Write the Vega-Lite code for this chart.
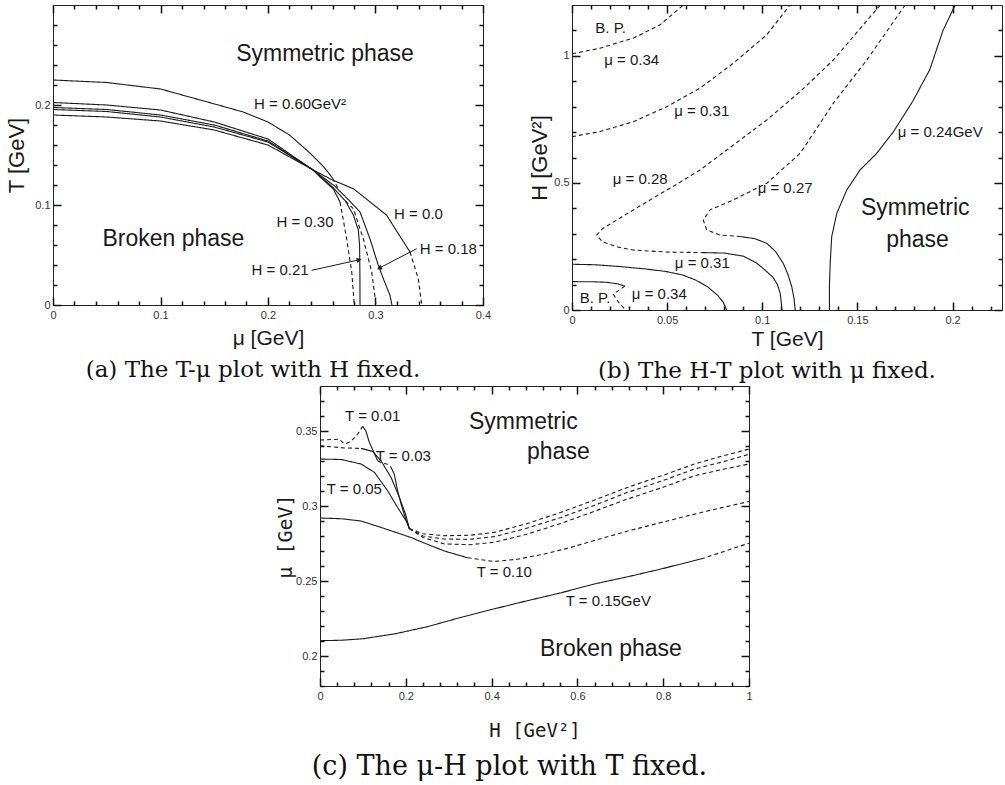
{
"$schema":"https://vega.github.io/schema/vega-lite/v6.json",
"padding":{"left":5,"top":2,"right":0,"bottom":0},
"background":"white",
"config":{
 "view":{"stroke":"#222","strokeWidth":1},
 "axis":{"grid":false,"domain":false,"zindex":1,"tickColor":"#111","tickWidth":1.5,"tickOpacity":1,"labelFont":"Liberation Sans","labelFontSize":11,"labelColor":"#333","labelFlush":false,"labelOverlap":false,"titleFont":"Liberation Sans","titleFontWeight":"normal","titleColor":"#1a1a1a","format":"~g"},
 "text":{"font":"Liberation Sans","color":"#1a1a1a","baseline":"middle","align":"center"},
 "title":{"font":"DejaVu Serif","fontWeight":"normal","color":"#111","fontSize":23}
},
"datasets":{
 "a_lines":[
  {"seg":"H60s","s":"solid","i":0,"x":0,"y":0.225},{"seg":"H60s","s":"solid","i":1,"x":0.05,"y":0.2225},{"seg":"H60s","s":"solid","i":2,"x":0.1,"y":0.216},{"seg":"H60s","s":"solid","i":3,"x":0.137,"y":0.205},{"seg":"H60s","s":"solid","i":4,"x":0.177,"y":0.193},{"seg":"H60s","s":"solid","i":5,"x":0.2,"y":0.183},{"seg":"H60s","s":"solid","i":6,"x":0.22,"y":0.17},{"seg":"H60s","s":"solid","i":7,"x":0.239,"y":0.152},{"seg":"H60s","s":"solid","i":8,"x":0.252,"y":0.138},{"seg":"H60s","s":"solid","i":9,"x":0.26,"y":0.127},
  {"seg":"H60d","s":"dashed","i":0,"x":0.26,"y":0.127},{"seg":"H60d","s":"dashed","i":1,"x":0.266,"y":0.115},
  {"seg":"H30s","s":"solid","i":0,"x":0,"y":0.2025},{"seg":"H30s","s":"solid","i":1,"x":0.05,"y":0.2},{"seg":"H30s","s":"solid","i":2,"x":0.1,"y":0.195},{"seg":"H30s","s":"solid","i":3,"x":0.15,"y":0.183},{"seg":"H30s","s":"solid","i":4,"x":0.2,"y":0.166},{"seg":"H30s","s":"solid","i":5,"x":0.242,"y":0.135},{"seg":"H30s","s":"solid","i":6,"x":0.2484,"y":0.128},{"seg":"H30s","s":"solid","i":7,"x":0.2608,"y":0.116},{"seg":"H30s","s":"solid","i":8,"x":0.267,"y":0.103},
  {"seg":"H30d","s":"dashed","i":0,"x":0.267,"y":0.103},{"seg":"H30d","s":"dashed","i":1,"x":0.2732,"y":0.066},{"seg":"H30d","s":"dashed","i":2,"x":0.2779,"y":0.033},{"seg":"H30d","s":"dashed","i":3,"x":0.2803,"y":0},
  {"seg":"H21s","s":"solid","i":0,"x":0,"y":0.1975},{"seg":"H21s","s":"solid","i":1,"x":0.05,"y":0.1955},{"seg":"H21s","s":"solid","i":2,"x":0.1,"y":0.19},{"seg":"H21s","s":"solid","i":3,"x":0.15,"y":0.18},{"seg":"H21s","s":"solid","i":4,"x":0.2,"y":0.164},{"seg":"H21s","s":"solid","i":5,"x":0.242,"y":0.135},{"seg":"H21s","s":"solid","i":6,"x":0.26,"y":0.118},{"seg":"H21s","s":"solid","i":7,"x":0.272,"y":0.104},{"seg":"H21s","s":"solid","i":8,"x":0.2794,"y":0.09},{"seg":"H21s","s":"solid","i":9,"x":0.284,"y":0.075},{"seg":"H21s","s":"solid","i":10,"x":0.2852,"y":0.06},{"seg":"H21s","s":"solid","i":11,"x":0.2855,"y":0.03},{"seg":"H21s","s":"solid","i":12,"x":0.2856,"y":0},
  {"seg":"H21d","s":"dashed","i":0,"x":0.272,"y":0.104},{"seg":"H21d","s":"dashed","i":1,"x":0.2794,"y":0.0963},{"seg":"H21d","s":"dashed","i":2,"x":0.2887,"y":0.066},{"seg":"H21d","s":"dashed","i":3,"x":0.2965,"y":0.033},{"seg":"H21d","s":"dashed","i":4,"x":0.3005,"y":0},
  {"seg":"H18s","s":"solid","i":0,"x":0,"y":0.1955},{"seg":"H18s","s":"solid","i":1,"x":0.05,"y":0.1935},{"seg":"H18s","s":"solid","i":2,"x":0.1,"y":0.188},{"seg":"H18s","s":"solid","i":3,"x":0.15,"y":0.178},{"seg":"H18s","s":"solid","i":4,"x":0.2,"y":0.163},{"seg":"H18s","s":"solid","i":5,"x":0.242,"y":0.135},{"seg":"H18s","s":"solid","i":6,"x":0.262,"y":0.119},{"seg":"H18s","s":"solid","i":7,"x":0.276,"y":0.104},{"seg":"H18s","s":"solid","i":8,"x":0.2856,"y":0.093},{"seg":"H18s","s":"solid","i":9,"x":0.2949,"y":0.066},{"seg":"H18s","s":"solid","i":10,"x":0.3026,"y":0.0397},{"seg":"H18s","s":"solid","i":11,"x":0.3073,"y":0.0263},{"seg":"H18s","s":"solid","i":12,"x":0.3135,"y":0.0097},{"seg":"H18s","s":"solid","i":13,"x":0.3153,"y":0},
  {"seg":"H00s","s":"solid","i":0,"x":0,"y":0.19},{"seg":"H00s","s":"solid","i":1,"x":0.05,"y":0.188},{"seg":"H00s","s":"solid","i":2,"x":0.1,"y":0.184},{"seg":"H00s","s":"solid","i":3,"x":0.15,"y":0.175},{"seg":"H00s","s":"solid","i":4,"x":0.2,"y":0.16},{"seg":"H00s","s":"solid","i":5,"x":0.242,"y":0.135},{"seg":"H00s","s":"solid","i":6,"x":0.26,"y":0.125},{"seg":"H00s","s":"solid","i":7,"x":0.2794,"y":0.1163},{"seg":"H00s","s":"solid","i":8,"x":0.295,"y":0.103},{"seg":"H00s","s":"solid","i":9,"x":0.3104,"y":0.0897},{"seg":"H00s","s":"solid","i":10,"x":0.322,"y":0.07},{"seg":"H00s","s":"solid","i":11,"x":0.3321,"y":0.053},
  {"seg":"H00d","s":"dashed","i":0,"x":0.3321,"y":0.053},{"seg":"H00d","s":"dashed","i":1,"x":0.3398,"y":0.0263},{"seg":"H00d","s":"dashed","i":2,"x":0.343,"y":0}
 ],
 "a_text":[
  {"x":0.2298,"y":0.201,"t":"H = 0.60GeV²"},{"x":0.2344,"y":0.083,"t":"H = 0.30"},{"x":0.34,"y":0.0913,"t":"H = 0.0"},{"x":0.3677,"y":0.0557,"t":"H = 0.18"},{"x":0.2112,"y":0.0347,"t":"H = 0.21"}
 ],
 "a_phase":[{"x":0.253,"y":0.251,"t":"Symmetric phase"},{"x":0.112,"y":0.066,"t":"Broken phase"}],
 "a_arrows":[{"a":"h21","x":0.2406,"y":0.0347,"x2":0.284,"y2":0.045},{"a":"h18","x":0.3383,"y":0.0563,"x2":0.3042,"y2":0.0373}],
 "b_lines":[
  {"seg":"m34u","s":"dashed","i":0,"x":0,"y":1.008},{"seg":"m34u","s":"dashed","i":1,"x":0.0147,"y":1.03},{"seg":"m34u","s":"dashed","i":2,"x":0.0323,"y":1.07},{"seg":"m34u","s":"dashed","i":3,"x":0.0463,"y":1.122},{"seg":"m34u","s":"dashed","i":4,"x":0.0585,"y":1.2},
  {"seg":"m31u","s":"dashed","i":0,"x":0,"y":0.682},{"seg":"m31u","s":"dashed","i":1,"x":0.0147,"y":0.702},{"seg":"m31u","s":"dashed","i":2,"x":0.0323,"y":0.741},{"seg":"m31u","s":"dashed","i":3,"x":0.0498,"y":0.8},{"seg":"m31u","s":"dashed","i":4,"x":0.0673,"y":0.873},{"seg":"m31u","s":"dashed","i":5,"x":0.0848,"y":0.971},{"seg":"m31u","s":"dashed","i":6,"x":0.1024,"y":1.083},{"seg":"m31u","s":"dashed","i":7,"x":0.1146,"y":1.2},
  {"seg":"m28d","s":"dashed","i":0,"x":0.162,"y":1.2},{"seg":"m28d","s":"dashed","i":1,"x":0.1374,"y":0.984},{"seg":"m28d","s":"dashed","i":2,"x":0.12,"y":0.86},{"seg":"m28d","s":"dashed","i":3,"x":0.1024,"y":0.748},{"seg":"m28d","s":"dashed","i":4,"x":0.085,"y":0.65},{"seg":"m28d","s":"dashed","i":5,"x":0.0673,"y":0.551},{"seg":"m28d","s":"dashed","i":6,"x":0.054,"y":0.49},{"seg":"m28d","s":"dashed","i":7,"x":0.041,"y":0.433},{"seg":"m28d","s":"dashed","i":8,"x":0.0235,"y":0.354},{"seg":"m28d","s":"dashed","i":9,"x":0.016,"y":0.32},{"seg":"m28d","s":"dashed","i":10,"x":0.013,"y":0.295},{"seg":"m28d","s":"dashed","i":11,"x":0.016,"y":0.268},{"seg":"m28d","s":"dashed","i":12,"x":0.024,"y":0.248},{"seg":"m28d","s":"dashed","i":13,"x":0.032,"y":0.236},{"seg":"m28d","s":"dashed","i":14,"x":0.0498,"y":0.228},{"seg":"m28d","s":"dashed","i":15,"x":0.068,"y":0.226},
  {"seg":"m28s","s":"solid","i":0,"x":0.068,"y":0.226},{"seg":"m28s","s":"solid","i":1,"x":0.08,"y":0.224},{"seg":"m28s","s":"solid","i":2,"x":0.09,"y":0.212},{"seg":"m28s","s":"solid","i":3,"x":0.097,"y":0.185},{"seg":"m28s","s":"solid","i":4,"x":0.101,"y":0.16},{"seg":"m28s","s":"solid","i":5,"x":0.1055,"y":0.13},{"seg":"m28s","s":"solid","i":6,"x":0.108,"y":0.1},{"seg":"m28s","s":"solid","i":7,"x":0.1094,"y":0.066},{"seg":"m28s","s":"solid","i":8,"x":0.11,"y":0.03},{"seg":"m28s","s":"solid","i":9,"x":0.1103,"y":0},
  {"seg":"m27d","s":"dashed","i":0,"x":0.1751,"y":1.2},{"seg":"m27d","s":"dashed","i":1,"x":0.155,"y":0.984},{"seg":"m27d","s":"dashed","i":2,"x":0.1374,"y":0.814},{"seg":"m27d","s":"dashed","i":3,"x":0.12,"y":0.617},{"seg":"m27d","s":"dashed","i":4,"x":0.1024,"y":0.499},{"seg":"m27d","s":"dashed","i":5,"x":0.0848,"y":0.433},{"seg":"m27d","s":"dashed","i":6,"x":0.0726,"y":0.394},{"seg":"m27d","s":"dashed","i":7,"x":0.069,"y":0.354},{"seg":"m27d","s":"dashed","i":8,"x":0.0708,"y":0.315},{"seg":"m27d","s":"dashed","i":9,"x":0.0778,"y":0.295},{"seg":"m27d","s":"dashed","i":10,"x":0.0883,"y":0.289},
  {"seg":"m27s","s":"solid","i":0,"x":0.0883,"y":0.289},{"seg":"m27s","s":"solid","i":1,"x":0.096,"y":0.281},{"seg":"m27s","s":"solid","i":2,"x":0.1024,"y":0.262},{"seg":"m27s","s":"solid","i":3,"x":0.107,"y":0.23},{"seg":"m27s","s":"solid","i":4,"x":0.111,"y":0.184},{"seg":"m27s","s":"solid","i":5,"x":0.1135,"y":0.14},{"seg":"m27s","s":"solid","i":6,"x":0.1155,"y":0.092},{"seg":"m27s","s":"solid","i":7,"x":0.1167,"y":0.045},{"seg":"m27s","s":"solid","i":8,"x":0.1173,"y":0},
  {"seg":"m24s","s":"solid","i":0,"x":0.2014,"y":1.2},{"seg":"m24s","s":"solid","i":1,"x":0.195,"y":1.1},{"seg":"m24s","s":"solid","i":2,"x":0.188,"y":0.945},{"seg":"m24s","s":"solid","i":3,"x":0.179,"y":0.82},{"seg":"m24s","s":"solid","i":4,"x":0.169,"y":0.702},{"seg":"m24s","s":"solid","i":5,"x":0.16,"y":0.615},{"seg":"m24s","s":"solid","i":6,"x":0.1514,"y":0.551},{"seg":"m24s","s":"solid","i":7,"x":0.1444,"y":0.472},{"seg":"m24s","s":"solid","i":8,"x":0.1392,"y":0.381},{"seg":"m24s","s":"solid","i":9,"x":0.1365,"y":0.289},{"seg":"m24s","s":"solid","i":10,"x":0.1357,"y":0.184},{"seg":"m24s","s":"solid","i":11,"x":0.1353,"y":0.092},{"seg":"m24s","s":"solid","i":12,"x":0.1353,"y":0},
  {"seg":"m31l","s":"solid","i":0,"x":0,"y":0.18},{"seg":"m31l","s":"solid","i":1,"x":0.012,"y":0.178},{"seg":"m31l","s":"solid","i":2,"x":0.025,"y":0.171},{"seg":"m31l","s":"solid","i":3,"x":0.038,"y":0.162},{"seg":"m31l","s":"solid","i":4,"x":0.049,"y":0.152},{"seg":"m31l","s":"solid","i":5,"x":0.058,"y":0.138},{"seg":"m31l","s":"solid","i":6,"x":0.065,"y":0.118},{"seg":"m31l","s":"solid","i":7,"x":0.0715,"y":0.09},{"seg":"m31l","s":"solid","i":8,"x":0.0765,"y":0.058},{"seg":"m31l","s":"solid","i":9,"x":0.0795,"y":0.03},{"seg":"m31l","s":"solid","i":10,"x":0.0813,"y":0},
  {"seg":"m34ls","s":"solid","i":0,"x":0,"y":0.1115},{"seg":"m34ls","s":"solid","i":1,"x":0.01,"y":0.1113},{"seg":"m34ls","s":"solid","i":2,"x":0.018,"y":0.109},{"seg":"m34ls","s":"solid","i":3,"x":0.024,"y":0.103},{"seg":"m34ls","s":"solid","i":4,"x":0.0278,"y":0.094},
  {"seg":"m34ld","s":"dashed","i":0,"x":0.0278,"y":0.094},{"seg":"m34ld","s":"dashed","i":1,"x":0.0217,"y":0.062},{"seg":"m34ld","s":"dashed","i":2,"x":0.0245,"y":0.03},{"seg":"m34ld","s":"dashed","i":3,"x":0.0282,"y":0}
 ],
 "b_text":[
  {"x":0.0203,"y":1.109,"t":"B. P."},{"x":0.0314,"y":0.984,"t":"μ = 0.34"},{"x":0.0682,"y":0.781,"t":"μ = 0.31"},{"x":0.1935,"y":0.702,"t":"μ = 0.24GeV"},{"x":0.0358,"y":0.516,"t":"μ = 0.28"},{"x":0.112,"y":0.479,"t":"μ = 0.27"},{"x":0.0685,"y":0.184,"t":"μ = 0.31"},{"x":0.0459,"y":0.063,"t":"μ = 0.34"},{"x":0.0121,"y":0.046,"t":"B. P."}
 ],
 "b_phase":[{"x":0.1804,"y":0.4,"t":"Symmetric"},{"x":0.1816,"y":0.276,"t":"phase"}],
 "c_lines":[
  {"seg":"t01d1","s":"dashed","i":0,"x":0,"y":0.344},{"seg":"t01d1","s":"dashed","i":1,"x":0.045,"y":0.3445},{"seg":"t01d1","s":"dashed","i":2,"x":0.057,"y":0.3413},{"seg":"t01d1","s":"dashed","i":3,"x":0.072,"y":0.343},{"seg":"t01d1","s":"dashed","i":4,"x":0.088,"y":0.348},{"seg":"t01d1","s":"dashed","i":5,"x":0.0995,"y":0.3531},
  {"seg":"t01s1","s":"solid","i":0,"x":0.0995,"y":0.3531},{"seg":"t01s1","s":"solid","i":1,"x":0.107,"y":0.35},{"seg":"t01s1","s":"solid","i":2,"x":0.115,"y":0.3424},{"seg":"t01s1","s":"solid","i":3,"x":0.1344,"y":0.3302},
  {"seg":"t01d2","s":"dashed","i":0,"x":0.1344,"y":0.3302},{"seg":"t01d2","s":"dashed","i":1,"x":0.145,"y":0.3285},{"seg":"t01d2","s":"dashed","i":2,"x":0.156,"y":0.328},{"seg":"t01d2","s":"dashed","i":3,"x":0.1655,"y":0.3258},
  {"seg":"t01s2","s":"solid","i":0,"x":0.1655,"y":0.3258},{"seg":"t01s2","s":"solid","i":1,"x":0.173,"y":0.3213},{"seg":"t01s2","s":"solid","i":2,"x":0.181,"y":0.31},{"seg":"t01s2","s":"solid","i":3,"x":0.189,"y":0.3013},{"seg":"t01s2","s":"solid","i":4,"x":0.2,"y":0.291},{"seg":"t01s2","s":"solid","i":5,"x":0.208,"y":0.285},
  {"seg":"t01d3","s":"dashed","i":0,"x":0.208,"y":0.285},{"seg":"t01d3","s":"dashed","i":1,"x":0.24,"y":0.2815},{"seg":"t01d3","s":"dashed","i":2,"x":0.29,"y":0.2802},{"seg":"t01d3","s":"dashed","i":3,"x":0.35,"y":0.2805},{"seg":"t01d3","s":"dashed","i":4,"x":0.406,"y":0.2824},{"seg":"t01d3","s":"dashed","i":5,"x":0.48,"y":0.288},{"seg":"t01d3","s":"dashed","i":6,"x":0.562,"y":0.2958},{"seg":"t01d3","s":"dashed","i":7,"x":0.64,"y":0.304},{"seg":"t01d3","s":"dashed","i":8,"x":0.717,"y":0.3124},{"seg":"t01d3","s":"dashed","i":9,"x":0.8,"y":0.3205},{"seg":"t01d3","s":"dashed","i":10,"x":0.873,"y":0.328},{"seg":"t01d3","s":"dashed","i":11,"x":0.94,"y":0.3335},{"seg":"t01d3","s":"dashed","i":12,"x":1,"y":0.338},
  {"seg":"t03d1","s":"dashed","i":0,"x":0,"y":0.3402},{"seg":"t03d1","s":"dashed","i":1,"x":0.057,"y":0.3387},{"seg":"t03d1","s":"dashed","i":2,"x":0.0956,"y":0.3384},
  {"seg":"t03s","s":"solid","i":0,"x":0.0956,"y":0.3384},{"seg":"t03s","s":"solid","i":1,"x":0.123,"y":0.3364},{"seg":"t03s","s":"solid","i":2,"x":0.142,"y":0.3302},{"seg":"t03s","s":"solid","i":3,"x":0.1655,"y":0.3191},{"seg":"t03s","s":"solid","i":4,"x":0.185,"y":0.3058},{"seg":"t03s","s":"solid","i":5,"x":0.2,"y":0.294},{"seg":"t03s","s":"solid","i":6,"x":0.208,"y":0.285},
  {"seg":"t03d2","s":"dashed","i":0,"x":0.208,"y":0.285},{"seg":"t03d2","s":"dashed","i":1,"x":0.24,"y":0.28},{"seg":"t03d2","s":"dashed","i":2,"x":0.29,"y":0.278},{"seg":"t03d2","s":"dashed","i":3,"x":0.35,"y":0.2778},{"seg":"t03d2","s":"dashed","i":4,"x":0.406,"y":0.2796},{"seg":"t03d2","s":"dashed","i":5,"x":0.48,"y":0.285},{"seg":"t03d2","s":"dashed","i":6,"x":0.562,"y":0.2924},{"seg":"t03d2","s":"dashed","i":7,"x":0.64,"y":0.3005},{"seg":"t03d2","s":"dashed","i":8,"x":0.717,"y":0.3091},{"seg":"t03d2","s":"dashed","i":9,"x":0.8,"y":0.317},{"seg":"t03d2","s":"dashed","i":10,"x":0.873,"y":0.3247},{"seg":"t03d2","s":"dashed","i":11,"x":0.94,"y":0.3295},{"seg":"t03d2","s":"dashed","i":12,"x":1,"y":0.3345},
  {"seg":"t05s","s":"solid","i":0,"x":0,"y":0.3313},{"seg":"t05s","s":"solid","i":1,"x":0.05,"y":0.331},{"seg":"t05s","s":"solid","i":2,"x":0.0956,"y":0.328},{"seg":"t05s","s":"solid","i":3,"x":0.127,"y":0.3224},{"seg":"t05s","s":"solid","i":4,"x":0.158,"y":0.31},{"seg":"t05s","s":"solid","i":5,"x":0.181,"y":0.299},{"seg":"t05s","s":"solid","i":6,"x":0.2044,"y":0.2885},{"seg":"t05s","s":"solid","i":7,"x":0.208,"y":0.285},
  {"seg":"t05d","s":"dashed","i":0,"x":0.208,"y":0.285},{"seg":"t05d","s":"dashed","i":1,"x":0.24,"y":0.279},{"seg":"t05d","s":"dashed","i":2,"x":0.29,"y":0.2747},{"seg":"t05d","s":"dashed","i":3,"x":0.35,"y":0.2742},{"seg":"t05d","s":"dashed","i":4,"x":0.406,"y":0.2758},{"seg":"t05d","s":"dashed","i":5,"x":0.48,"y":0.281},{"seg":"t05d","s":"dashed","i":6,"x":0.562,"y":0.2884},{"seg":"t05d","s":"dashed","i":7,"x":0.64,"y":0.2965},{"seg":"t05d","s":"dashed","i":8,"x":0.717,"y":0.3047},{"seg":"t05d","s":"dashed","i":9,"x":0.8,"y":0.3125},{"seg":"t05d","s":"dashed","i":10,"x":0.873,"y":0.3202},{"seg":"t05d","s":"dashed","i":11,"x":0.94,"y":0.3245},{"seg":"t05d","s":"dashed","i":12,"x":1,"y":0.328},
  {"seg":"t10s","s":"solid","i":0,"x":0,"y":0.292},{"seg":"t10s","s":"solid","i":1,"x":0.05,"y":0.2915},{"seg":"t10s","s":"solid","i":2,"x":0.0956,"y":0.29},{"seg":"t10s","s":"solid","i":3,"x":0.15,"y":0.285},{"seg":"t10s","s":"solid","i":4,"x":0.212,"y":0.279},{"seg":"t10s","s":"solid","i":5,"x":0.25,"y":0.2745},{"seg":"t10s","s":"solid","i":6,"x":0.29,"y":0.27},{"seg":"t10s","s":"solid","i":7,"x":0.344,"y":0.2655},
  {"seg":"t10d","s":"dashed","i":0,"x":0.344,"y":0.2655},{"seg":"t10d","s":"dashed","i":1,"x":0.406,"y":0.263},{"seg":"t10d","s":"dashed","i":2,"x":0.46,"y":0.2645},{"seg":"t10d","s":"dashed","i":3,"x":0.523,"y":0.268},{"seg":"t10d","s":"dashed","i":4,"x":0.58,"y":0.272},{"seg":"t10d","s":"dashed","i":5,"x":0.639,"y":0.277},{"seg":"t10d","s":"dashed","i":6,"x":0.72,"y":0.2835},{"seg":"t10d","s":"dashed","i":7,"x":0.795,"y":0.289},{"seg":"t10d","s":"dashed","i":8,"x":0.9,"y":0.2965},{"seg":"t10d","s":"dashed","i":9,"x":1,"y":0.303},
  {"seg":"t15s","s":"solid","i":0,"x":0,"y":0.2102},{"seg":"t15s","s":"solid","i":1,"x":0.05,"y":0.2105},{"seg":"t15s","s":"solid","i":2,"x":0.1,"y":0.2115},{"seg":"t15s","s":"solid","i":3,"x":0.173,"y":0.2147},{"seg":"t15s","s":"solid","i":4,"x":0.25,"y":0.2195},{"seg":"t15s","s":"solid","i":5,"x":0.329,"y":0.2258},{"seg":"t15s","s":"solid","i":6,"x":0.4,"y":0.231},{"seg":"t15s","s":"solid","i":7,"x":0.484,"y":0.2369},{"seg":"t15s","s":"solid","i":8,"x":0.56,"y":0.242},{"seg":"t15s","s":"solid","i":9,"x":0.639,"y":0.248},{"seg":"t15s","s":"solid","i":10,"x":0.72,"y":0.253},{"seg":"t15s","s":"solid","i":11,"x":0.795,"y":0.258},{"seg":"t15s","s":"solid","i":12,"x":0.888,"y":0.2647},
  {"seg":"t15d","s":"dashed","i":0,"x":0.888,"y":0.2647},{"seg":"t15d","s":"dashed","i":1,"x":0.95,"y":0.2705},{"seg":"t15d","s":"dashed","i":2,"x":1,"y":0.2752}
 ],
 "c_text":[
  {"x":0.1228,"y":0.3602,"t":"T = 0.01"},{"x":0.194,"y":0.3336,"t":"T = 0.03"},{"x":0.08,"y":0.3113,"t":"T = 0.05"},{"x":0.4297,"y":0.2558,"t":"T = 0.10"},{"x":0.672,"y":0.2364,"t":"T = 0.15GeV"}
 ],
 "c_phase":[{"x":0.474,"y":0.3558,"t":"Symmetric"},{"x":0.5556,"y":0.3358,"t":"phase"},{"x":0.678,"y":0.2047,"t":"Broken phase"}]
},
"spacing":0,
"vconcat":[
 {"hconcat":[
  {"width":430,"height":300,
   "title":{"text":"(a) The T-μ plot with H fixed.","orient":"bottom","offset":11,"dx":-15},
   "layer":[
    {"data":{"name":"a_lines"},"mark":{"type":"line","color":"#1a1a1a","strokeWidth":1.1},
     "encoding":{
      "x":{"field":"x","type":"quantitative","scale":{"domain":[0,0.4],"nice":false,"zero":false},
       "axis":{"orient":"bottom","values":[0,0.1,0.2,0.3,0.4],"offset":-8,"tickSize":8,"labelPadding":4,"title":"μ [GeV]","titleFontSize":21,"titlePadding":7}},
      "y":{"field":"y","type":"quantitative","scale":{"domain":[0,0.3],"nice":false,"zero":false},
       "axis":{"orient":"left","values":[0,0.1,0.2],"offset":-8,"tickSize":8,"labelPadding":3,"title":"T [GeV]","titleFontSize":22,"titlePadding":6}},
      "detail":{"field":"seg","type":"nominal"},
      "order":{"field":"i","type":"quantitative"},
      "strokeDash":{"field":"s","type":"nominal","scale":{"domain":["solid","dashed"],"range":[[1,0],[4,3]]},"legend":null}}},
    {"data":{"name":"a_text"},"mark":{"type":"text","fontSize":15},
     "encoding":{
      "x":{"field":"x","type":"quantitative","axis":{"orient":"top","values":[0,0.1,0.2,0.3,0.4],"offset":-8,"tickSize":8,"labels":false,"title":null}},
      "y":{"field":"y","type":"quantitative","axis":{"orient":"right","values":[0,0.1,0.2],"offset":-8,"tickSize":8,"labels":false,"title":null}},
      "text":{"field":"t"}}},
    {"data":{"name":"a_phase"},"mark":{"type":"text","fontSize":23},
     "encoding":{
      "x":{"field":"x","type":"quantitative","axis":{"orient":"bottom","values":[0.02,0.04,0.06,0.08,0.12,0.14,0.16,0.18,0.22,0.24,0.26,0.28,0.32,0.34,0.36,0.38],"offset":-4,"tickSize":4,"labels":false,"title":null}},
      "y":{"field":"y","type":"quantitative","axis":{"orient":"left","values":[0.02,0.04,0.06,0.08,0.12,0.14,0.16,0.18,0.22,0.24,0.26,0.28],"offset":-4,"tickSize":4,"labels":false,"title":null}},
      "text":{"field":"t"}}},
    {"data":{"name":"a_phase"},"mark":{"type":"text","text":"","opacity":0},
     "encoding":{
      "x":{"field":"x","type":"quantitative","axis":{"orient":"top","values":[0.02,0.04,0.06,0.08,0.12,0.14,0.16,0.18,0.22,0.24,0.26,0.28,0.32,0.34,0.36,0.38],"offset":-4,"tickSize":4,"labels":false,"title":null}},
      "y":{"field":"y","type":"quantitative","axis":{"orient":"right","values":[0.02,0.04,0.06,0.08,0.12,0.14,0.16,0.18,0.22,0.24,0.26,0.28],"offset":-4,"tickSize":4,"labels":false,"title":null}}}},
    {"data":{"name":"a_arrows"},"mark":{"type":"rule","color":"#1a1a1a","strokeWidth":1},
     "encoding":{"x":{"field":"x","type":"quantitative","axis":null},"y":{"field":"y","type":"quantitative","axis":null},"x2":{"field":"x2"},"y2":{"field":"y2"}}},
    {"data":{"name":"a_arrows"},"transform":[{"filter":"datum.a=='h21'"}],"mark":{"type":"point","shape":"triangle","filled":true,"color":"#1a1a1a","opacity":1,"size":30,"angle":78},
     "encoding":{"x":{"field":"x2","type":"quantitative","axis":null},"y":{"field":"y2","type":"quantitative","axis":null}}},
    {"data":{"name":"a_arrows"},"transform":[{"filter":"datum.a=='h18'"}],"mark":{"type":"point","shape":"triangle","filled":true,"color":"#1a1a1a","opacity":1,"size":30,"angle":243},
     "encoding":{"x":{"field":"x2","type":"quantitative","axis":null},"y":{"field":"y2","type":"quantitative","axis":null}}}
   ],
   "resolve":{"axis":{"x":"independent","y":"independent"}}
  },
  {"width":430,"height":305,
   "title":{"text":"(b) The H-T plot with μ fixed.","orient":"bottom","offset":11,"dx":-20},
   "layer":[
    {"data":{"name":"b_lines"},"mark":{"type":"line","color":"#1a1a1a","strokeWidth":1.1},
     "encoding":{
      "x":{"field":"x","type":"quantitative","scale":{"domain":[0,0.226],"nice":false,"zero":false},
       "axis":{"orient":"bottom","values":[0,0.05,0.1,0.15,0.2],"offset":-8,"tickSize":8,"labelPadding":4,"title":"T [GeV]","titleFontSize":21,"titlePadding":3}},
      "y":{"field":"y","type":"quantitative","scale":{"domain":[0,1.2],"nice":false,"zero":false},
       "axis":{"orient":"left","values":[0,0.5,1],"offset":-8,"tickSize":8,"labelPadding":3,"title":"H [GeV²]","titleFontSize":22,"titlePadding":2}},
      "detail":{"field":"seg","type":"nominal"},
      "order":{"field":"i","type":"quantitative"},
      "strokeDash":{"field":"s","type":"nominal","scale":{"domain":["solid","dashed"],"range":[[1,0],[4,3]]},"legend":null}}},
    {"data":{"name":"b_text"},"mark":{"type":"text","fontSize":15},
     "encoding":{
      "x":{"field":"x","type":"quantitative","axis":{"orient":"top","values":[0,0.05,0.1,0.15,0.2],"offset":-8,"tickSize":8,"labels":false,"title":null}},
      "y":{"field":"y","type":"quantitative","axis":{"orient":"right","values":[0,0.5,1],"offset":-8,"tickSize":8,"labels":false,"title":null}},
      "text":{"field":"t"}}},
    {"data":{"name":"b_phase"},"mark":{"type":"text","fontSize":23},
     "encoding":{
      "x":{"field":"x","type":"quantitative","axis":{"orient":"bottom","values":[0.01,0.02,0.03,0.04,0.06,0.07,0.08,0.09,0.11,0.12,0.13,0.14,0.16,0.17,0.18,0.19,0.21,0.22],"offset":-4,"tickSize":4,"labels":false,"title":null}},
      "y":{"field":"y","type":"quantitative","axis":{"orient":"left","values":[0.1,0.2,0.3,0.4,0.6,0.7,0.8,0.9,1.1],"offset":-4,"tickSize":4,"labels":false,"title":null}},
      "text":{"field":"t"}}},
    {"data":{"name":"b_phase"},"mark":{"type":"text","text":"","opacity":0},
     "encoding":{
      "x":{"field":"x","type":"quantitative","axis":{"orient":"top","values":[0.01,0.02,0.03,0.04,0.06,0.07,0.08,0.09,0.11,0.12,0.13,0.14,0.16,0.17,0.18,0.19,0.21,0.22],"offset":-4,"tickSize":4,"labels":false,"title":null}},
      "y":{"field":"y","type":"quantitative","axis":{"orient":"right","values":[0.1,0.2,0.3,0.4,0.6,0.7,0.8,0.9,1.1],"offset":-4,"tickSize":4,"labels":false,"title":null}}}}
   ],
   "resolve":{"axis":{"x":"independent","y":"independent"}}
  }
 ],"spacing":89,"bounds":"flush"},
 {"hconcat":[
  {"width":257,"height":10,"view":{"stroke":null},"data":{"values":[{}]},"mark":{"type":"text","text":""},"encoding":{}},
  {"width":429,"height":300,
   "title":{"text":"(c) The μ-H plot with T fixed.","orient":"bottom","offset":14,"fontSize":27,"dx":-25},
   "layer":[
    {"data":{"name":"c_lines"},"mark":{"type":"line","color":"#1a1a1a","strokeWidth":1.1},
     "encoding":{
      "x":{"field":"x","type":"quantitative","scale":{"domain":[0,1],"nice":false,"zero":false},
       "axis":{"orient":"bottom","values":[0,0.2,0.4,0.6,0.8,1],"offset":-8,"tickSize":8,"labelPadding":4,"title":"H [GeV²]","titleFont":"DejaVu Sans Mono","titleFontSize":19,"titlePadding":20}},
      "y":{"field":"y","type":"quantitative","scale":{"domain":[0.18,0.38],"nice":false,"zero":false},
       "axis":{"orient":"left","values":[0.2,0.25,0.3,0.35],"offset":-8,"tickSize":8,"labelPadding":3,"title":"μ [GeV]","titleFont":"DejaVu Sans Mono","titleFontSize":20,"titlePadding":0}},
      "detail":{"field":"seg","type":"nominal"},
      "order":{"field":"i","type":"quantitative"},
      "strokeDash":{"field":"s","type":"nominal","scale":{"domain":["solid","dashed"],"range":[[1,0],[4,3]]},"legend":null}}},
    {"data":{"name":"c_text"},"mark":{"type":"text","fontSize":15},
     "encoding":{
      "x":{"field":"x","type":"quantitative","axis":{"orient":"top","values":[0,0.2,0.4,0.6,0.8,1],"offset":-8,"tickSize":8,"labels":false,"title":null}},
      "y":{"field":"y","type":"quantitative","axis":{"orient":"right","values":[0.2,0.25,0.3,0.35],"offset":-8,"tickSize":8,"labels":false,"title":null}},
      "text":{"field":"t"}}},
    {"data":{"name":"c_phase"},"mark":{"type":"text","fontSize":23},
     "encoding":{
      "x":{"field":"x","type":"quantitative","axis":{"orient":"bottom","values":[0.04,0.08,0.12,0.16,0.24,0.28,0.32,0.36,0.44,0.48,0.52,0.56,0.64,0.68,0.72,0.76,0.84,0.88,0.92,0.96],"offset":-4,"tickSize":4,"labels":false,"title":null}},
      "y":{"field":"y","type":"quantitative","axis":{"orient":"left","values":[0.18,0.19,0.21,0.22,0.23,0.24,0.26,0.27,0.28,0.29,0.31,0.32,0.33,0.34,0.36,0.37],"offset":-4,"tickSize":4,"labels":false,"title":null}},
      "text":{"field":"t"}}},
    {"data":{"name":"c_phase"},"mark":{"type":"text","text":"","opacity":0},
     "encoding":{
      "x":{"field":"x","type":"quantitative","axis":{"orient":"top","values":[0.04,0.08,0.12,0.16,0.24,0.28,0.32,0.36,0.44,0.48,0.52,0.56,0.64,0.68,0.72,0.76,0.84,0.88,0.92,0.96],"offset":-4,"tickSize":4,"labels":false,"title":null}},
      "y":{"field":"y","type":"quantitative","axis":{"orient":"right","values":[0.18,0.19,0.21,0.22,0.23,0.24,0.26,0.27,0.28,0.29,0.31,0.32,0.33,0.34,0.36,0.37],"offset":-4,"tickSize":4,"labels":false,"title":null}}}}
   ],
   "resolve":{"axis":{"x":"independent","y":"independent"}}
  }
 ],"spacing":10,"bounds":"flush"}
]
}
